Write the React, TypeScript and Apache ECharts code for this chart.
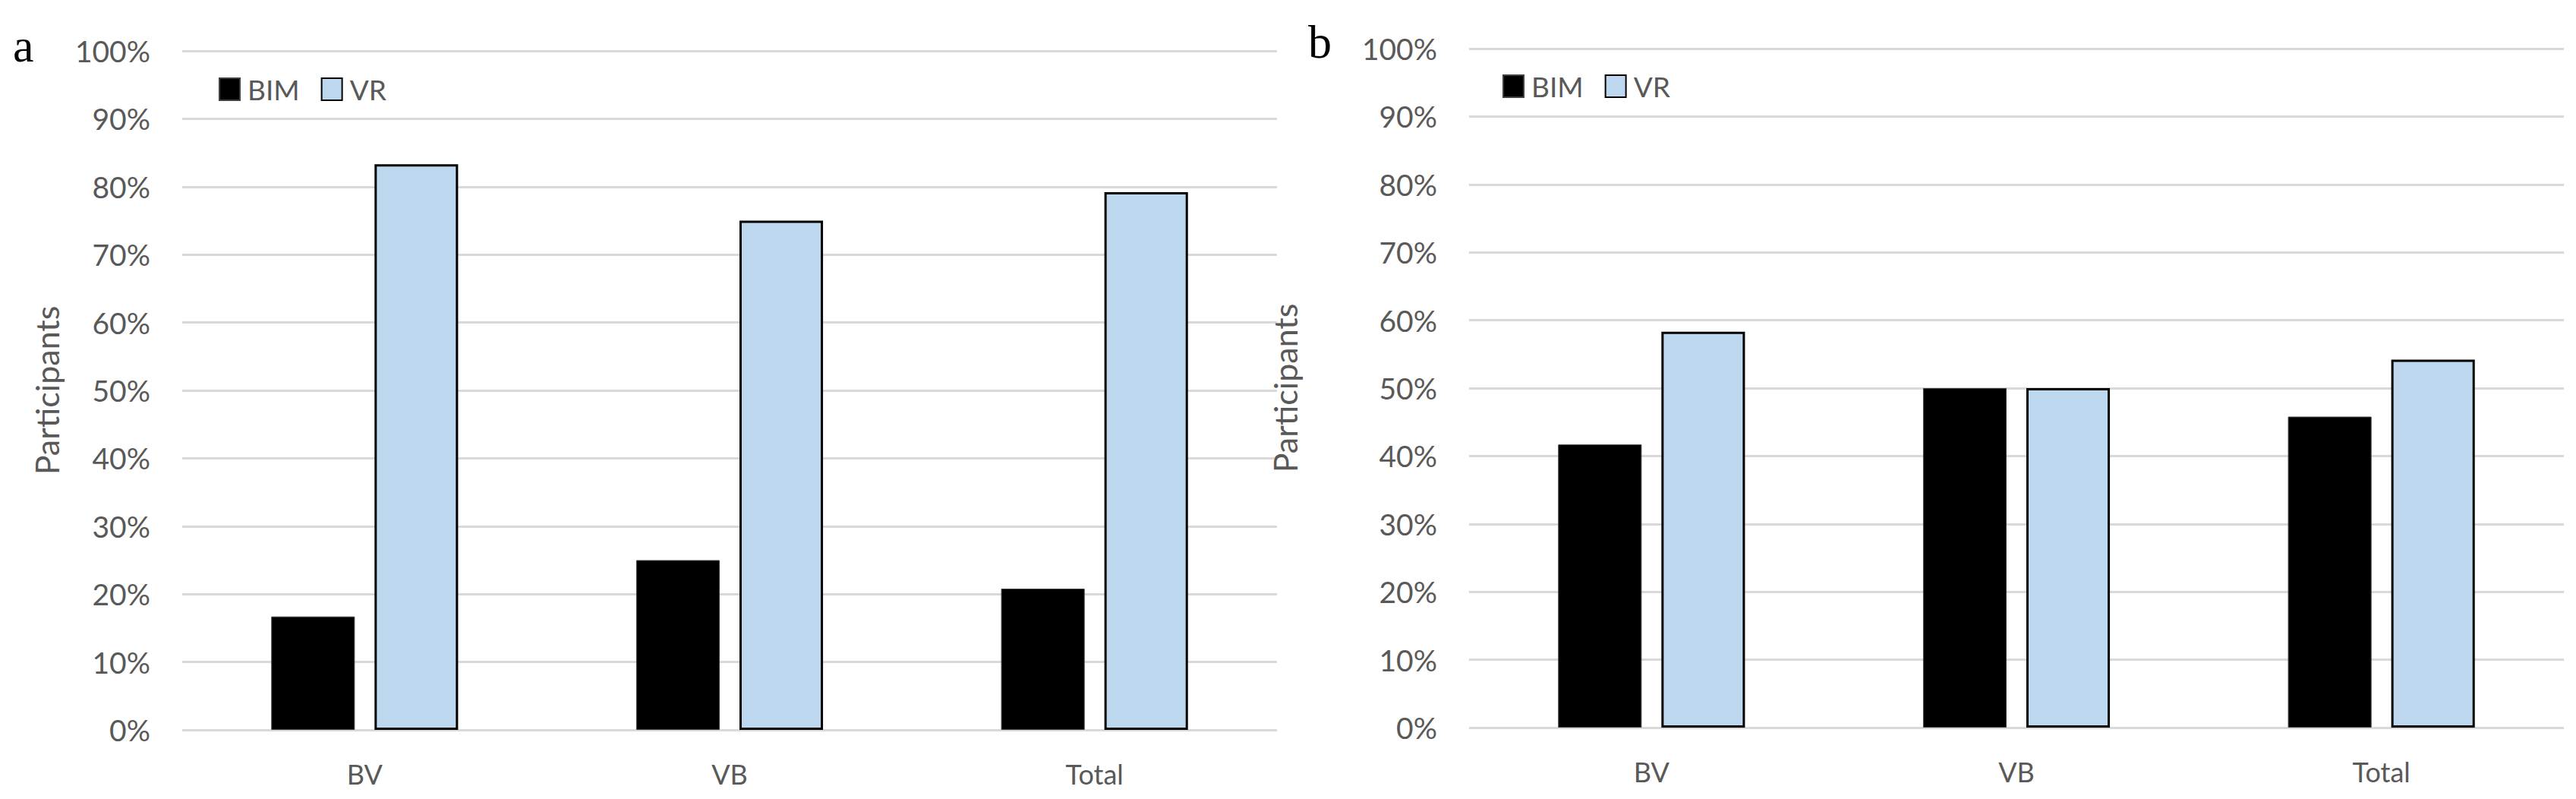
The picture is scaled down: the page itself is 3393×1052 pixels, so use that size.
import React, { useEffect, useRef } from "react";
import * as echarts from "echarts";

const categories = ["BV", "VB", "Total"];
const seriesNames = ["BIM", "VR"];
const bimA = [0.167, 0.25, 0.208];
const vrA = [0.833, 0.75, 0.792];
const bimB = [0.417, 0.5, 0.458];
const vrB = [0.583, 0.5, 0.542];
const panelLetters = ["a", "b"];
const yAxisTitle = "Participants";

const GRAY = "#595959";
const FONT = "Lato";

function buildOption() {
  const grids = [
    { left: 240, top: 67, width: 1442, height: 894 },
    { left: 1935, top: 64, width: 1442, height: 894 },
  ];
  const nameGaps = [157, 221];
  const legendPos = [
    { left: 283, top: 94 },
    { left: 1974, top: 90 },
  ];
  const data = [
    [bimA, vrA],
    [bimB, vrB],
  ];
  const option: any = {
    animation: false,
    backgroundColor: "#ffffff",
    textStyle: { fontFamily: FONT },
    grid: grids,
    legend: legendPos.map((p) => ({
      ...p,
      data: seriesNames,
      orient: "horizontal",
      itemWidth: 27,
      itemHeight: 29,
      itemGap: 28,
      icon: "rect",
      selectedMode: false,
      textStyle: { color: GRAY, fontSize: 37, fontFamily: FONT, padding: [0, 0, 0, 5] },
    })),
    xAxis: grids.map((_, i) => ({
      type: "category",
      gridIndex: i,
      data: categories,
      axisLine: { show: false },
      axisTick: { show: false },
      axisLabel: { color: GRAY, fontSize: 36, margin: 40, fontFamily: FONT },
    })),
    yAxis: grids.map((_, i) => ({
      type: "value",
      gridIndex: i,
      min: 0,
      max: 1,
      interval: 0.1,
      name: yAxisTitle,
      nameLocation: "middle",
      nameGap: nameGaps[i],
      nameTextStyle: { color: GRAY, fontSize: 43, fontFamily: FONT },
      axisLine: { show: false },
      axisTick: { show: false },
      axisLabel: {
        color: GRAY,
        fontSize: 39,
        margin: 42,
        fontFamily: FONT,
        formatter: (v: number) => Math.round(v * 100) + "%",
      },
      splitLine: { show: true, lineStyle: { color: "#d9d9d9", width: 3 } },
    })),
    series: [] as any[],
    graphic: panelLetters.map((t, i) => ({
      type: "text",
      left: i === 0 ? 17 : 1723,
      top: i === 0 ? 29 : 24,
      style: {
        text: t,
        fontFamily: "Liberation Serif",
        fontSize: 62,
        fill: "#000",
      },
    })),
  };
  data.forEach((pair, i) => {
    option.series.push({
      type: "bar",
      name: seriesNames[0],
      xAxisIndex: i,
      yAxisIndex: i,
      data: pair[0],
      barWidth: "22.9%",
      barGap: "23.6%",
      itemStyle: { color: "#000000", borderColor: "#404040", borderWidth: 1 },
    });
    option.series.push({
      type: "bar",
      name: seriesNames[1],
      xAxisIndex: i,
      yAxisIndex: i,
      data: pair[1],
      barWidth: "22.9%",
      barGap: "23.6%",
      itemStyle: { color: "#BDD7EE", borderColor: "#000000", borderWidth: 3 },
    });
  });
  return option;
}

export default function App() {
  const ref = useRef<HTMLDivElement>(null);
  useEffect(() => {
    if (!ref.current) return;
    const chart = echarts.init(ref.current, undefined, { renderer: "svg" });
    chart.setOption(buildOption());
    return () => chart.dispose();
  }, []);
  return (
    <div
      ref={ref}
      style={{ position: "fixed", left: 0, top: 0, width: 3393, height: 1052, background: "#fff" }}
    />
  );
}
